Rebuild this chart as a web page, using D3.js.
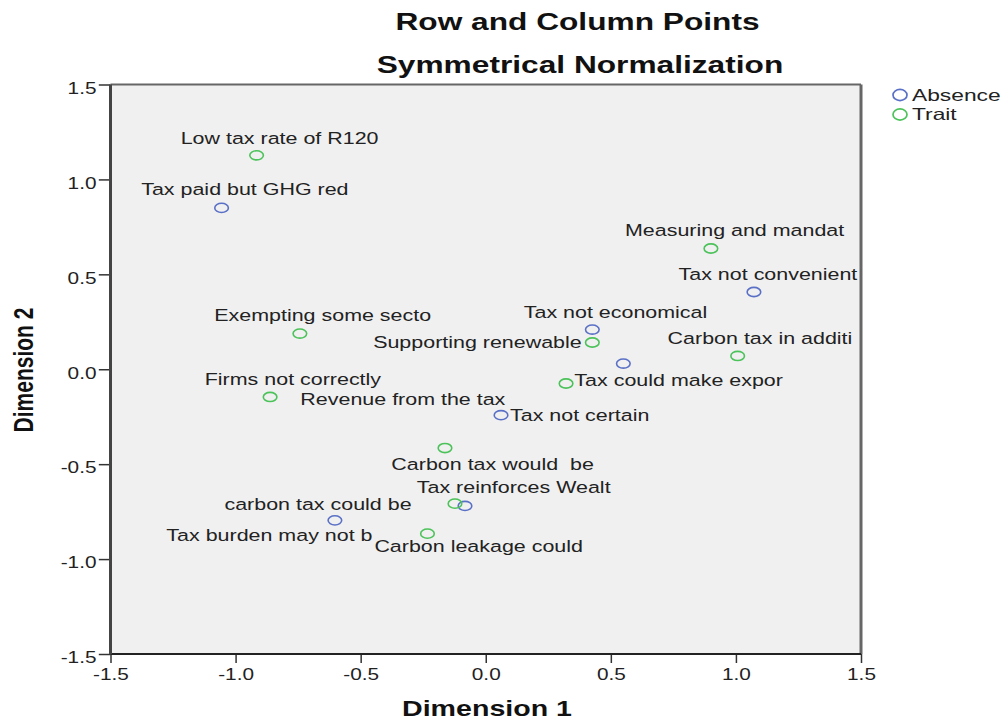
<!DOCTYPE html>
<html>
<head>
<meta charset="utf-8">
<script src="https://cdn.jsdelivr.net/npm/d3@7"></script>
<style>
  body { margin: 0; background: #fff; }
  svg text { font-family: "Liberation Sans", Arial, sans-serif; white-space: pre; }
</style>
</head>
<body>
<svg id="chart"></svg>
<script>
// Row and column points (correspondence analysis)
const pointLabels = [
  "Low tax rate of R120",
  "Tax paid but GHG red",
  "Measuring and mandat",
  "Tax not convenient",
  "Tax not economical",
  "Supporting renewable",
  "Exempting some secto",
  "Carbon tax in additi",
  "Revenue from the tax",
  "Tax could make expor",
  "Firms not correctly",
  "Tax not certain",
  "Carbon tax would  be",
  "Tax reinforces Wealt",
  "carbon tax could be",
  "Tax burden may not b",
  "Carbon leakage could",
];
const dim1 = [-0.916, -1.056, 0.9, 1.072, 0.426, 0.426, -0.743, 1.007, 0.55, 0.321, -0.862, 0.061, -0.163, -0.083, -0.123, -0.603, -0.233];
const dim2 = [1.127, 0.85, 0.636, 0.407, 0.209, 0.141, 0.188, 0.07, 0.03, -0.075, -0.146, -0.242, -0.415, -0.72, -0.708, -0.796, -0.866];
const groups = ["Trait", "Absence", "Trait", "Absence", "Absence", "Trait", "Trait", "Trait", "Absence", "Trait", "Trait", "Absence", "Trait", "Absence", "Trait", "Absence", "Trait"];

const seriesNames = ["Absence", "Trait"];
const tickValues = [-1.5, -1.0, -0.5, 0.0, 0.5, 1.0, 1.5];

// label placement next to each point: [anchor, dx, dy] in pixels
const labelLayout = [
  ["middle", 23, -11.7],
  ["middle", 23.3, -12.7],
  ["middle", 23.7, -12.6],
  ["middle", 14, -11.7],
  ["middle", 23.2, -12],
  ["end", -10.6, 6],
  ["middle", 22.8, -12.6],
  ["middle", 22.3, -12.4],
  ["end", -118, 41.7],
  ["start", 8.3, 2.4],
  ["middle", 22.8, -12.4],
  ["start", 9, 5.7],
  ["middle", 47.7, 21.6],
  ["middle", 48.7, -13],
  ["end", -43.4, 6],
  ["end", 37.6, 21],
  ["middle", 51.2, 18.4],
];

const width = 1008;
const height = 723;
const sx = 1.3; // the whole picture is stretched horizontally

const svg = d3.select("#chart").attr("width", width).attr("height", height);

const color = d3.scaleOrdinal().domain(seriesNames).range(["#5a70c6", "#4cc25a"]);

const x = d3.scaleLinear().domain([-1.5, 1.5]).range([110.5, 861]);
const y = d3.scaleLinear().domain([-1.5, 1.5]).range([654, 84.5]);

// stretched text helper
const addText = (parent, px, py, str, opt = {}) => {
  const g = parent
    .append("g")
    .attr("transform", `translate(${px},${py}) scale(${opt.sx || sx},1)` + (opt.rotate ? " rotate(-90)" : ""));
  return g
    .append("text")
    .attr("text-anchor", opt.anchor || "start")
    .style("font-size", (opt.size || 16.5) + "px")
    .style("font-weight", opt.bold ? "bold" : "normal")
    .style("fill", opt.fill || "#222")
    .text(str);
};

// plot background
svg
  .append("rect")
  .attr("x", x(-1.5))
  .attr("y", y(1.5))
  .attr("width", x(1.5) - x(-1.5))
  .attr("height", y(-1.5) - y(1.5))
  .attr("fill", "#f0f0f0");

// axes
const yAxis = svg
  .append("g")
  .attr("transform", `translate(${x(-1.5)},0)`)
  .call(d3.axisLeft(y).tickValues(tickValues).tickSize(11.7).tickFormat((d) => d.toFixed(1)));
yAxis.select(".domain").remove();
yAxis.selectAll(".tick line").attr("stroke", "#333").attr("stroke-width", 1.5);
yAxis
  .selectAll(".tick text")
  .attr("x", -14 / sx)
  .attr("dy", "0.55em")
  .attr("transform", `scale(${sx},1)`)
  .style("font-size", "16px")
  .style("fill", "#222")
  .attr("font-family", null);

const xAxis = svg
  .append("g")
  .attr("transform", `translate(0,${y(-1.5)})`)
  .call(d3.axisBottom(x).tickValues(tickValues).tickSize(9).tickFormat((d) => d.toFixed(1)));
xAxis.select(".domain").remove();
xAxis.selectAll(".tick line").attr("stroke", "#333").attr("stroke-width", 1.5);
xAxis
  .selectAll(".tick text")
  .attr("y", 26)
  .attr("dy", 0)
  .attr("transform", `scale(${sx},1)`)
  .style("font-size", "16px")
  .style("fill", "#222")
  .attr("font-family", null);

// frame lines
const frame = svg.append("g").attr("fill", "none");
frame.append("line").attr("x1", x(-1.5)).attr("x2", x(1.5)).attr("y1", y(1.5)).attr("y2", y(1.5)).attr("stroke", "#666").attr("stroke-width", 2);
frame.append("line").attr("x1", x(1.5)).attr("x2", x(1.5)).attr("y1", y(1.5)).attr("y2", y(-1.5)).attr("stroke", "#666").attr("stroke-width", 3);
frame.append("line").attr("x1", x(-1.5)).attr("x2", x(1.5)).attr("y1", y(-1.5)).attr("y2", y(-1.5)).attr("stroke", "#222").attr("stroke-width", 2);
frame.append("line").attr("x1", x(-1.5)).attr("x2", x(-1.5)).attr("y1", y(1.5)).attr("y2", y(-1.5)).attr("stroke", "#444").attr("stroke-width", 3);

// points
const points = pointLabels.map((d, i) => ({
  label: d,
  d1: dim1[i],
  d2: dim2[i],
  group: groups[i],
  layout: labelLayout[i],
}));

svg
  .selectAll(".point")
  .data(points)
  .enter()
  .append("ellipse")
  .attr("class", "point")
  .attr("cx", (d) => x(d.d1))
  .attr("cy", (d) => y(d.d2))
  .attr("rx", 6.8)
  .attr("ry", 4.6)
  .attr("fill", "none")
  .attr("stroke", (d) => color(d.group))
  .attr("stroke-width", 1.6);

const labelLayer = svg.append("g");
points.forEach((d) => {
  const [anchor, dx, dy] = d.layout;
  addText(labelLayer, x(d.d1) + dx, y(d.d2) + dy, d.label, { anchor: anchor, size: 16.5, sx: 1.3 });
});

// titles
addText(svg, 577.5, 30, "Row and Column Points", { anchor: "middle", size: 24, bold: true, sx: 1.32, fill: "#111" });
addText(svg, 580, 73, "Symmetrical Normalization", { anchor: "middle", size: 24, bold: true, sx: 1.32, fill: "#111" });
addText(svg, 487, 716, "Dimension 1", { anchor: "middle", size: 22, bold: true, sx: 1.3, fill: "#111" });
addText(svg, 33, 370, "Dimension 2", { anchor: "middle", size: 21, bold: true, sx: 1.3, rotate: true, fill: "#111" });

// legend
const legend = svg.append("g").attr("transform", "translate(900, 95)");
const legendItems = legend
  .selectAll(".legend-item")
  .data(seriesNames)
  .enter()
  .append("g")
  .attr("class", "legend-item")
  .attr("transform", (d, i) => `translate(0, ${i * 19.5})`);

legendItems
  .append("ellipse")
  .attr("rx", 7)
  .attr("ry", 5.6)
  .attr("fill", "none")
  .attr("stroke", (d) => color(d))
  .attr("stroke-width", 1.7);

legendItems.each(function (d) {
  addText(d3.select(this), 12, 5.5, d, { size: 16.5, sx: 1.38 });
});
</script>
</body>
</html>
